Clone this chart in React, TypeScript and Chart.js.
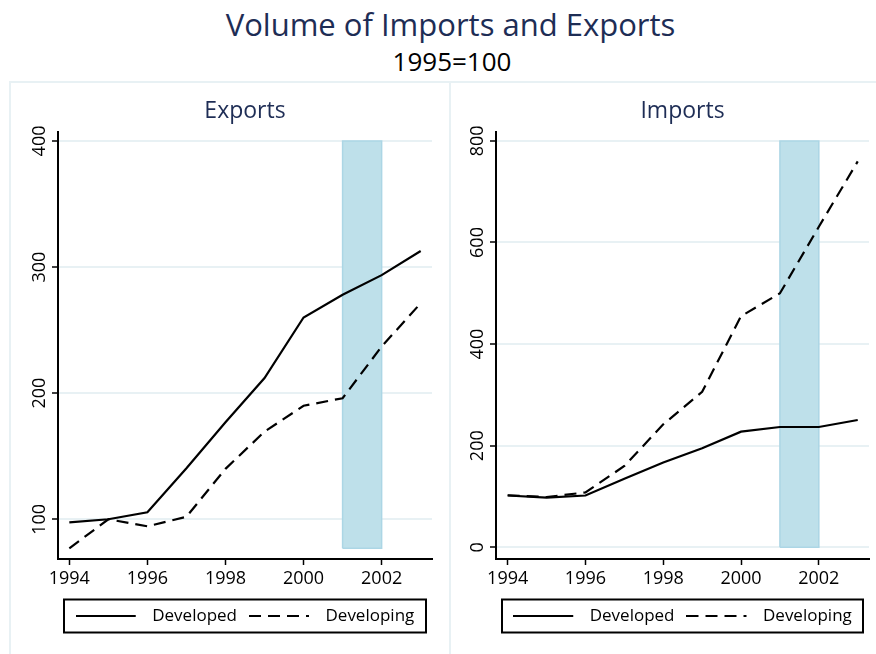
import React, { useEffect, useRef } from 'react';
import { Chart, registerables } from 'chart.js';

Chart.register(...registerables);

// ---------- data ----------
const years = [1994, 1995, 1996, 1997, 1998, 1999, 2000, 2001, 2002, 2003];
const seriesLabels = ['Developed', 'Developing'];

const exportsDeveloped = [97.6, 100, 105.6, 140.5, 177, 212, 260, 278, 293.6, 312.7];
const exportsDeveloping = [77, 100, 94.4, 102, 140, 169.5, 190, 196, 237, 271.3];

const importsDeveloped = [102, 98, 102, 135, 167, 195, 227.6, 236.8, 236.8, 250.6];
const importsDeveloping = [102.5, 99, 108, 160, 242, 306, 455, 500, 631, 759.6];

const xTicks = [1994, 1996, 1998, 2000, 2002];
const exportsYTicks = [100, 200, 300, 400];
const importsYTicks = [0, 200, 400, 600, 800];

const bandYears = [2001, 2002];
const exportsBand = [77, 400];
const importsBand = [0, 800];

const mainTitle = 'Volume of Imports and Exports';
const subTitle = '1995=100';
const panelTitles = ['Exports', 'Imports'];

// ---------- styles ----------
const NAVY = 'rgb(30,45,85)';
const GRID = 'rgb(232,241,244)';
const FRAME = 'rgb(232,241,244)';
const BAND_FILL = 'rgb(190,224,234)';
const BAND_LINE = 'rgb(172,214,229)';
const FONT = '"Open Sans", "DejaVu Sans", sans-serif';

function makeLineSample(dash: number[]) {
  const c = document.createElement('canvas');
  c.width = 68;
  c.height = 4;
  const g = c.getContext('2d')!;
  g.strokeStyle = '#000';
  g.lineWidth = 2;
  g.setLineDash(dash);
  g.beginPath();
  g.moveTo(0, 2);
  g.lineTo(60, 2);
  g.stroke();
  return c;
}

const rotatedYLabels = {
  id: 'rotatedYLabels',
  afterDraw(chart: any) {
    const y = chart.scales.y;
    const ctx = chart.ctx;
    ctx.save();
    ctx.font = `18px ${FONT}`;
    ctx.fillStyle = '#000';
    ctx.textAlign = 'center';
    ctx.textBaseline = 'alphabetic';
    for (const t of y.ticks) {
      const py = y.getPixelForValue(t.value);
      ctx.save();
      ctx.translate(chart.chartArea.left - 13, py);
      ctx.rotate(-Math.PI / 2);
      ctx.fillText(String(t.value), 0, 0);
      ctx.restore();
    }
    ctx.restore();
  },
};

const legendFrame = {
  id: 'legendFrame',
  afterDraw(chart: any) {
    const l = chart.legend;
    if (!l || !l.legendHitBoxes || !l.legendHitBoxes.length) return;
    const hb = l.legendHitBoxes[0];
    const cy = hb.top + hb.height / 2;
    const ca = chart.chartArea;
    const ctx = chart.ctx;
    ctx.save();
    ctx.strokeStyle = '#000';
    ctx.lineWidth = 2;
    ctx.strokeRect(ca.left + 6, cy - 16.5, ca.right - ca.left - 12, 33);
    ctx.restore();
  },
};

interface PanelSpec {
  title: string;
  dev: number[];
  devg: number[];
  yTicks: number[];
  band: number[];
  yMin: number;
  yMax: number;
  xMin: number;
  xMax: number;
  yWidth: number;
  padRight: number;
}

function buildConfig(p: PanelSpec): any {
  const solid = makeLineSample([]);
  const dashed = makeLineSample([12, 7]);
  const pts = (vals: number[]) => years.map((yr, i) => ({ x: yr, y: vals[i] }));
  const bandPts = [
    { x: bandYears[0], y: p.band[0] },
    { x: bandYears[0], y: p.band[1] },
    { x: bandYears[1], y: p.band[1] },
    { x: bandYears[1], y: p.band[0] },
    { x: bandYears[0], y: p.band[0] },
  ];
  return {
    type: 'line',
    data: {
      datasets: [
        {
          label: seriesLabels[0],
          data: pts(p.dev),
          borderColor: '#000',
          borderWidth: 2.2,
          pointRadius: 0,
          fill: false,
          tension: 0,
        },
        {
          label: seriesLabels[1],
          data: pts(p.devg),
          borderColor: '#000',
          borderWidth: 2.2,
          borderDash: [12, 7],
          pointRadius: 0,
          fill: false,
          tension: 0,
        },
        {
          label: 'band',
          data: bandPts,
          borderColor: BAND_LINE,
          backgroundColor: BAND_FILL,
          borderWidth: 1.5,
          pointRadius: 0,
          fill: 'shape',
          tension: 0,
        },
      ],
    },
    options: {
      responsive: false,
      animation: false,
      events: [],
      layout: { padding: { left: 0, right: p.padRight, top: 0, bottom: 19.5 } },
      scales: {
        x: {
          type: 'linear',
          min: p.xMin,
          max: p.xMax,
          afterBuildTicks: (s: any) => {
            s.ticks = xTicks.map((v) => ({ value: v }));
          },
          afterFit: (s: any) => {
            s.height = 36.5;
          },
          ticks: {
            autoSkip: false,
            maxRotation: 0,
            padding: 3,
            color: '#000',
            font: { family: FONT, size: 18 },
            callback: (v: any) => String(v),
          },
          grid: {
            display: true,
            drawOnChartArea: false,
            drawTicks: true,
            tickLength: 6,
            tickColor: '#000',
            tickWidth: 1.5,
          },
          border: { display: true, color: '#000', width: 2 },
        },
        y: {
          type: 'linear',
          min: p.yMin,
          max: p.yMax,
          afterBuildTicks: (s: any) => {
            s.ticks = p.yTicks.map((v) => ({ value: v }));
          },
          afterFit: (s: any) => {
            s.width = p.yWidth;
          },
          ticks: { display: false },
          grid: {
            color: GRID,
            lineWidth: 2,
            drawTicks: true,
            tickLength: 6,
            tickColor: '#000',
            tickWidth: 1.5,
          },
          border: { display: true, color: '#000', width: 2 },
        },
      },
      plugins: {
        tooltip: { enabled: false },
        title: {
          display: true,
          text: p.title,
          fullSize: false,
          color: NAVY,
          font: { family: FONT, size: 23, weight: 'normal' },
          padding: { top: 15.7, bottom: 6.7 },
        },
        legend: {
          display: true,
          position: 'bottom',
          fullSize: false,
          labels: {
            usePointStyle: true,
            pointStyleWidth: 68,
            padding: 12,
            color: '#000',
            font: { family: FONT, size: 17 },
            generateLabels: () => [
              {
                text: seriesLabels[0],
                pointStyle: solid,
                datasetIndex: 0,
                fillStyle: '#000',
                strokeStyle: '#000',
                lineWidth: 0,
                hidden: false,
              },
              {
                text: seriesLabels[1],
                pointStyle: dashed,
                datasetIndex: 1,
                fillStyle: '#000',
                strokeStyle: '#000',
                lineWidth: 0,
                hidden: false,
              },
            ],
          },
        },
      },
    },
    plugins: [rotatedYLabels, legendFrame],
  };
}

function Panel({ spec, left, width }: { spec: PanelSpec; left: number; width: number }) {
  const ref = useRef<HTMLCanvasElement | null>(null);
  useEffect(() => {
    if (!ref.current) return;
    const chart = new Chart(ref.current, buildConfig(spec));
    return () => chart.destroy();
  }, []);
  return (
    <canvas
      ref={ref}
      width={width}
      height={572}
      style={{ position: 'absolute', left, top: 82, width, height: 572, display: 'block' }}
    />
  );
}

const exportsSpec: PanelSpec = {
  title: panelTitles[0],
  dev: exportsDeveloped,
  devg: exportsDeveloping,
  yTicks: exportsYTicks,
  band: exportsBand,
  yMin: 68.5,
  yMax: 407.1,
  xMin: 1993.71,
  xMax: 2003.29,
  yWidth: 48,
  padRight: 18,
};

const importsSpec: PanelSpec = {
  title: panelTitles[1],
  dev: importsDeveloped,
  devg: importsDeveloping,
  yTicks: importsYTicks,
  band: importsBand,
  yMin: -23,
  yMax: 817.5,
  xMin: 1993.7,
  xMax: 2003.29,
  yWidth: 46,
  padRight: 7,
};

export default function App() {
  return (
    <div
      style={{
        position: 'fixed',
        left: 0,
        top: 0,
        width: 876,
        height: 654,
        overflow: 'hidden',
        background: '#fff',
        fontFamily: FONT,
      }}
    >
      <div
        style={{
          position: 'absolute',
          left: 0,
          top: 9,
          width: 901,
          textAlign: 'center',
          fontSize: 31,
          lineHeight: '31px',
          color: NAVY,
          whiteSpace: 'nowrap',
        }}
      >
        {mainTitle}
      </div>
      <div
        style={{
          position: 'absolute',
          left: 0,
          top: 48,
          width: 904,
          textAlign: 'center',
          fontSize: 26,
          lineHeight: '26px',
          color: '#000',
          whiteSpace: 'nowrap',
        }}
      >
        {subTitle}
      </div>
      <Panel spec={exportsSpec} left={10} width={440} />
      <Panel spec={importsSpec} left={450} width={426} />
      <div style={{ position: 'absolute', left: 9, top: 81, width: 867, height: 2, background: FRAME }} />
      <div style={{ position: 'absolute', left: 9, top: 81, width: 2, height: 573, background: FRAME }} />
      <div style={{ position: 'absolute', left: 449, top: 81, width: 2, height: 573, background: FRAME }} />
    </div>
  );
}
